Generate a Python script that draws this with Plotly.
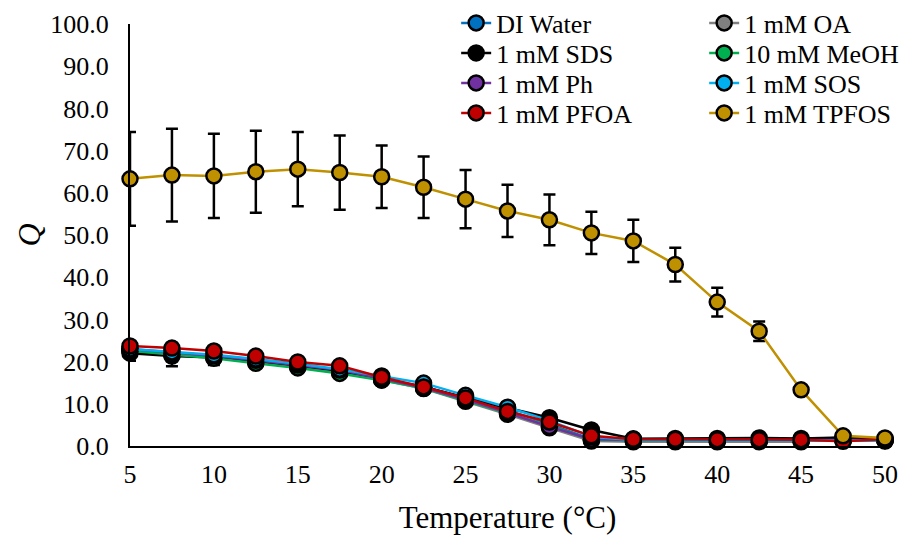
import plotly.graph_objects as go

temps = [5, 7.5, 10, 12.5, 15, 17.5, 20, 22.5, 25, 27.5, 30, 32.5, 35, 37.5, 40, 42.5, 45, 47.5, 50]

di_water = [22.5, 21.6, 21.0, 19.8, 18.7, 17.5, 15.9, 14.1, 11.3, 8.5, 5.2, 1.6, 1.2, 1.2, 1.2, 1.2, 1.2, 1.3, 1.3]
di_water_err = [1.2, 1.5, 1.2, 1.0, 1.0, 0.8, 0.8, 0.6, 0.6, 0.5, 0.5, 0.3, 0.2, 0.2, 0.2, 0.2, 0.2, 0.2, 0.2]
oa = [22.8, 21.8, 21.2, 20.0, 18.8, 17.4, 15.7, 13.6, 10.6, 7.5, 4.3, 1.2, 1.0, 1.0, 1.0, 1.0, 1.0, 2.2, 1.2]
oa_err = [1.0, 1.2, 1.0, 1.0, 0.8, 0.8, 0.6, 0.6, 0.5, 0.5, 0.4, 0.2, 0.2, 0.2, 0.2, 0.2, 0.2, 0.2, 0.2]
sds = [22.0, 21.3, 21.0, 20.1, 19.0, 17.8, 15.8, 14.0, 11.5, 9.0, 6.7, 3.8, 1.7, 1.8, 1.8, 1.9, 1.8, 2.0, 1.6]
sds_err = [1.8, 2.4, 1.8, 1.4, 1.2, 1.2, 0.9, 0.8, 0.6, 0.6, 0.6, 0.4, 0.2, 0.2, 0.2, 0.2, 0.2, 0.2, 0.2]
meoh = [22.6, 21.7, 20.8, 19.6, 18.5, 17.2, 15.6, 13.7, 10.8, 7.8, 4.8, 1.5, 1.3, 1.3, 1.3, 1.3, 1.3, 1.3, 1.3]
meoh_err = [1.0, 1.2, 1.0, 0.9, 0.8, 0.8, 0.6, 0.6, 0.5, 0.5, 0.4, 0.2, 0.2, 0.2, 0.2, 0.2, 0.2, 0.2, 0.2]
ph = [23.0, 22.2, 21.4, 20.3, 19.2, 18.0, 16.0, 13.8, 11.0, 7.9, 4.6, 1.6, 1.4, 1.4, 1.4, 1.4, 1.4, 1.4, 1.4]
ph_err = [1.0, 1.2, 1.0, 0.9, 0.8, 0.8, 0.6, 0.6, 0.5, 0.5, 0.4, 0.2, 0.2, 0.2, 0.2, 0.2, 0.2, 0.2, 0.2]
sos = [23.0, 22.3, 21.6, 20.6, 19.5, 18.2, 16.6, 14.9, 12.0, 9.2, 6.0, 2.2, 1.4, 1.3, 1.3, 1.3, 1.3, 1.3, 1.3]
sos_err = [1.0, 1.2, 1.0, 0.9, 0.8, 0.8, 0.6, 0.6, 0.5, 0.5, 0.4, 0.2, 0.2, 0.2, 0.2, 0.2, 0.2, 0.2, 0.2]
pfoa = [23.7, 23.2, 22.5, 21.3, 19.9, 19.0, 16.3, 14.0, 11.4, 8.2, 5.7, 2.4, 1.6, 1.6, 1.5, 1.5, 1.5, 1.1, 1.6]
pfoa_err = [1.0, 1.2, 1.0, 0.9, 0.8, 0.8, 0.6, 0.6, 0.5, 0.5, 0.4, 0.2, 0.2, 0.2, 0.2, 0.2, 0.2, 0.2, 0.2]
tpfos = [63.3, 64.2, 64.0, 65.0, 65.6, 64.8, 63.8, 61.3, 58.5, 55.7, 53.6, 50.5, 48.6, 43.0, 34.1, 27.2, 13.3, 2.4, 1.9]
tpfos_err = [11.1, 11.0, 10.0, 9.7, 8.8, 8.8, 7.4, 7.3, 6.9, 6.2, 6.0, 5.0, 5.0, 4.0, 3.4, 2.3, 0.0, 0.0, 0.0]

# (name, values, errors, colour, legend row)
series = [
    ("DI Water", di_water, di_water_err, "#0070C0", "legend"),
    ("1 mM OA", oa, oa_err, "#808080", "legend"),
    ("1 mM SDS", sds, sds_err, "#000000", "legend2"),
    ("10 mM MeOH", meoh, meoh_err, "#00B050", "legend2"),
    ("1 mM Ph", ph, ph_err, "#7030A0", "legend3"),
    ("1 mM SOS", sos, sos_err, "#00B0F0", "legend3"),
    ("1 mM PFOA", pfoa, pfoa_err, "#C00000", "legend4"),
    ("1 mM TPFOS", tpfos, tpfos_err, "#BF9000", "legend4"),
]

FONT = "Liberation Serif"

fig = go.Figure()
for name, vals, errs, color, leg in series:
    fig.add_trace(go.Scatter(
        x=temps, y=vals, name=name, mode="lines+markers",
        line=dict(color=color, width=2.5),
        marker=dict(size=15, color=color, line=dict(color="black", width=2.5)),
        error_y=dict(type="data", array=errs, visible=True, color="black", thickness=2.5, width=6),
        legend=leg, cliponaxis=False,
    ))

legend_style = dict(font=dict(family=FONT, size=26, color="black"), bgcolor="rgba(0,0,0,0)",
                    orientation="h", entrywidth=203, entrywidthmode="pixels",
                    yanchor="middle", xanchor="left", itemwidth=30, x=0.432)

fig.update_layout(
    width=905, height=535,
    margin=dict(l=130, r=20, t=24, b=89, autoexpand=False),
    paper_bgcolor="white", plot_bgcolor="white",
    font=dict(family=FONT, size=26, color="black"),
    showlegend=True,
    legend=dict(y=1.0024, **legend_style),
    legend2=dict(y=0.9313, **legend_style),
    legend3=dict(y=0.8602, **legend_style),
    legend4=dict(y=0.7891, **legend_style),
    xaxis=dict(range=[5, 50], tickmode="linear", tick0=5, dtick=5, showgrid=False, zeroline=False,
               showline=True, linecolor="black", linewidth=2, ticks="", ticklabelstandoff=4,
               tickfont=dict(family=FONT, size=26),
               title=dict(text="Temperature (°C)", font=dict(family=FONT, size=31), standoff=19)),
    yaxis=dict(range=[0, 100], tickmode="linear", tick0=0, dtick=10, tickformat=".1f",
               showgrid=False, zeroline=False, showline=True, linecolor="black", linewidth=2, ticks="",
               ticklabelstandoff=14, tickfont=dict(family=FONT, size=26),
               title=dict(text="<i>Q</i>", font=dict(family=FONT, size=32), standoff=0)),
)

fig.write_html("out.html")
